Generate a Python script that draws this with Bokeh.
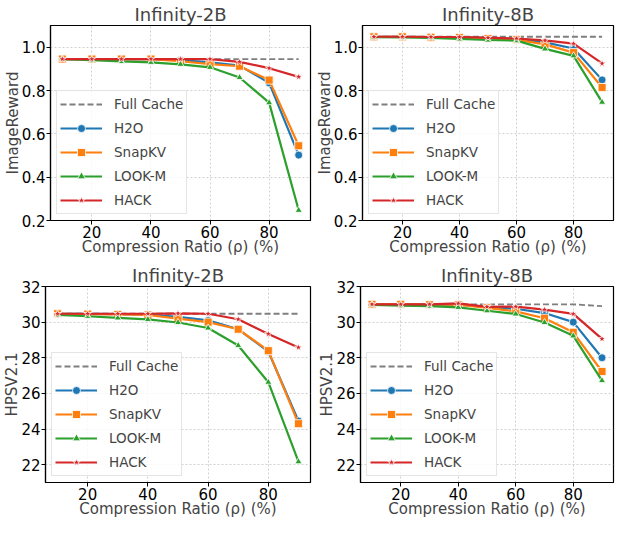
from bokeh.plotting import figure
from bokeh.layouts import column, row
from bokeh.models import Range1d, FixedTicker, NumeralTickFormatter, Legend, LegendItem
from bokeh.embed import file_html
from bokeh.resources import INLINE

ratios = [10, 20, 30, 40, 50, 60, 70, 80, 90]
methods = ["Full Cache", "H2O", "SnapKV", "LOOK-M", "HACK"]

ir_2b_full = [0.945, 0.945, 0.945, 0.945, 0.945, 0.945, 0.945, 0.945, 0.945]
ir_2b_h2o = [0.945, 0.945, 0.945, 0.945, 0.940, 0.930, 0.915, 0.835, 0.502]
ir_2b_snap = [0.945, 0.945, 0.945, 0.945, 0.935, 0.922, 0.912, 0.848, 0.545]
ir_2b_lookm = [0.945, 0.940, 0.934, 0.930, 0.921, 0.907, 0.860, 0.744, 0.247]
ir_2b_hack = [0.945, 0.945, 0.945, 0.945, 0.945, 0.945, 0.932, 0.903, 0.863]

ir_8b_full = [1.048, 1.048, 1.048, 1.048, 1.048, 1.048, 1.048, 1.048, 1.048]
ir_8b_h2o = [1.048, 1.048, 1.046, 1.045, 1.042, 1.037, 1.022, 0.994, 0.849]
ir_8b_snap = [1.048, 1.048, 1.046, 1.045, 1.040, 1.035, 1.013, 0.975, 0.814]
ir_8b_lookm = [1.046, 1.045, 1.043, 1.038, 1.033, 1.030, 0.992, 0.960, 0.746]
ir_8b_hack = [1.048, 1.048, 1.047, 1.047, 1.044, 1.040, 1.031, 1.016, 0.925]

hps_2b_full = [30.47, 30.47, 30.47, 30.47, 30.47, 30.47, 30.47, 30.47, 30.47]
hps_2b_h2o = [30.47, 30.46, 30.45, 30.42, 30.30, 30.10, 29.60, 28.35, 24.45]
hps_2b_snap = [30.47, 30.45, 30.43, 30.40, 30.20, 30.00, 29.60, 28.40, 24.30]
hps_2b_lookm = [30.40, 30.33, 30.24, 30.15, 29.98, 29.67, 28.69, 26.63, 22.17]
hps_2b_hack = [30.47, 30.47, 30.47, 30.47, 30.49, 30.47, 30.16, 29.34, 28.58]

hps_8b_full = [31.00, 31.00, 31.00, 31.00, 31.00, 31.00, 31.00, 31.00, 30.90]
hps_8b_h2o = [31.00, 31.00, 30.98, 30.98, 30.85, 30.75, 30.51, 30.00, 28.00]
hps_8b_snap = [31.00, 31.00, 30.98, 30.98, 30.80, 30.60, 30.22, 29.43, 27.23]
hps_8b_lookm = [30.97, 30.92, 30.90, 30.83, 30.64, 30.46, 29.98, 29.23, 26.72]
hps_8b_hack = [31.00, 31.00, 31.00, 31.05, 30.86, 30.87, 30.70, 30.46, 29.06]

ir_ticks = [0.2, 0.4, 0.6, 0.8, 1.0]
hps_ticks = [22, 24, 26, 28, 30, 32]
x_ticks = [20, 40, 60, 80]

colors = ["#7f7f7f", "#1f77b4", "#ff7f0e", "#2ca02c", "#d62728"]
markers = [None, "circle", "square", "triangle", "star"]
msizes = [0, 8, 8, 7, 8]
FONT = "DejaVu Sans"


def make(title, ylabel, series, yr, yticks, fmt, width, bl, br, height, bt, bb):
    p = figure(width=width, height=height, output_backend="svg", toolbar_location=None,
               x_range=Range1d(6, 94), y_range=Range1d(*yr),
               min_border_left=bl, min_border_right=br, min_border_top=bt, min_border_bottom=bb)
    p.title.text = title
    p.title.text_font = FONT
    p.title.text_font_size = "18px"
    p.title.text_font_style = "normal"
    p.title.align = "center"
    p.title.standoff = 2
    p.title.offset = 0
    p.outline_line_color = "black"
    p.outline_line_width = 1.2
    p.background_fill_color = "white"
    for ax in (p.xaxis[0], p.yaxis[0]):
        ax.axis_line_color = "black"
        ax.axis_line_width = 1.2
        ax.major_tick_out = 4
        ax.major_tick_in = 0
        ax.minor_tick_out = 0
        ax.minor_tick_in = 0
        ax.major_label_text_font = FONT
        ax.major_label_text_font_size = "15px"
        ax.major_label_text_color = "black"
        ax.major_label_standoff = 1
        ax.axis_label_text_font = FONT
        ax.axis_label_text_font_size = "15px"
        ax.axis_label_text_font_style = "normal"
        ax.axis_label_standoff = -3
    p.xaxis[0].ticker = FixedTicker(ticks=x_ticks)
    p.yaxis[0].ticker = FixedTicker(ticks=yticks)
    p.yaxis[0].formatter = NumeralTickFormatter(format=fmt)
    p.xaxis[0].axis_label = "Compression Ratio (\u03c1) (%)"
    p.yaxis[0].axis_label = ylabel
    for g in (p.xgrid[0], p.ygrid[0]):
        g.grid_line_color = "#c4c4c4"
        g.grid_line_dash = "2 2"
        g.grid_line_width = 0.8
    items = []
    for i, ys in enumerate(series):
        rs = []
        if i == 0:
            rs.append(p.line(ratios, ys, line_color=colors[i], line_width=1.8, line_dash="6 3"))
        else:
            rs.append(p.line(ratios, ys, line_color=colors[i], line_width=2.2))
            rs.append(p.scatter(ratios, ys, marker=markers[i], size=msizes[i],
                                fill_color=colors[i], line_color="white", line_width=0.8))
        items.append(LegendItem(label=methods[i], renderers=rs))
    leg = Legend(items=items, location="bottom_left")
    leg.margin = 6
    leg.padding = 3
    leg.spacing = 4
    leg.label_height = 20
    leg.glyph_height = 20
    leg.glyph_width = 42
    leg.label_standoff = 12
    leg.label_text_font = FONT
    leg.label_text_font_size = "13.5px"
    leg.border_line_color = "#cccccc"
    leg.border_line_width = 1
    leg.background_fill_color = "white"
    leg.background_fill_alpha = 0.8
    p.add_layout(leg, "center")
    return p


p1 = make("Infinity-2B", "ImageReward", [ir_2b_full, ir_2b_h2o, ir_2b_snap, ir_2b_lookm, ir_2b_hack],
          (0.2, 1.1), ir_ticks, "0.0", 312, 44, 2, 258, 0, 0)
p2 = make("Infinity-8B", "ImageReward", [ir_8b_full, ir_8b_h2o, ir_8b_snap, ir_8b_lookm, ir_8b_hack],
          (0.2, 1.1), ir_ticks, "0.0", 303, 48, 2, 258, 0, 0)
p3 = make("Infinity-2B", "HPSV2.1", [hps_2b_full, hps_2b_h2o, hps_2b_snap, hps_2b_lookm, hps_2b_hack],
          (21, 32), hps_ticks, "0", 312, 44, 2, 262, 28, 0)
p4 = make("Infinity-8B", "HPSV2.1", [hps_8b_full, hps_8b_h2o, hps_8b_snap, hps_8b_lookm, hps_8b_hack],
          (21, 32), hps_ticks, "0", 303, 48, 2, 262, 28, 0)

layout = column(row(p1, p2), row(p3, p4))
open("out.html", "w").write(file_html(layout, INLINE))
